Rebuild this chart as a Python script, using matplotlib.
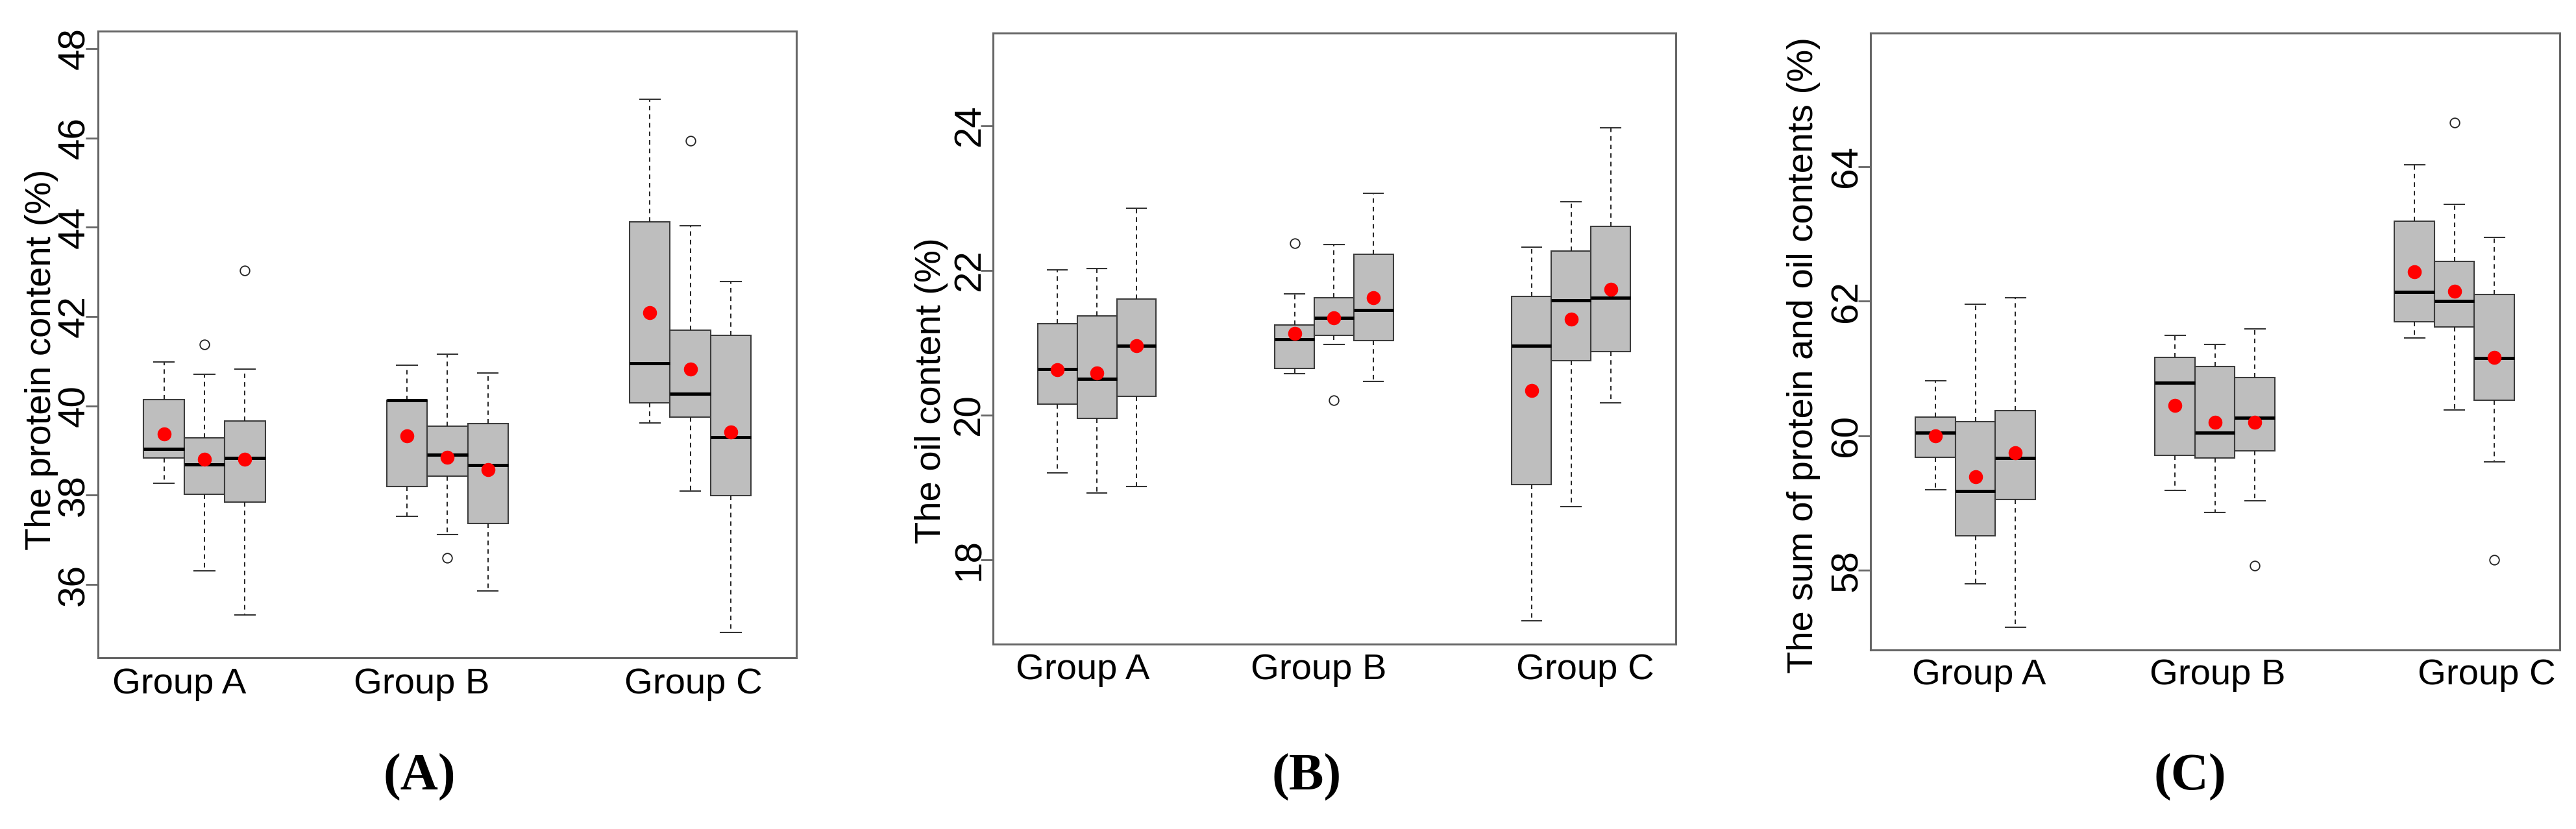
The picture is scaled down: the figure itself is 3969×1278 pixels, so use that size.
import matplotlib
matplotlib.use("Agg")
import matplotlib.pyplot as plt
from matplotlib import transforms

# ---------------- data ----------------
groups = ["Group A", "Group B", "Group C"]

# Panel A: protein content (%)
protein_whislo = [38.26, 36.30, 35.32, 37.52, 37.12, 35.86, 39.62, 38.09, 34.92]
protein_q1     = [38.83, 38.02, 37.85, 38.19, 38.42, 37.37, 40.07, 39.75, 37.99]
protein_med    = [39.04, 38.69, 38.83, 40.12, 38.91, 38.68, 40.96, 40.27, 39.30]
protein_q3     = [40.14, 39.28, 39.66, 40.12, 39.54, 39.61, 44.12, 41.70, 41.58]
protein_whishi = [40.98, 40.71, 40.83, 40.91, 41.15, 40.74, 46.87, 44.03, 42.79]
protein_mean   = [39.37, 38.80, 38.80, 39.32, 38.85, 38.57, 42.09, 40.83, 39.42]
protein_out    = [[], [41.38], [43.03], [], [36.60], [], [], [45.93], []]

# Panel B: oil content (%)
oil_whislo = [19.20, 18.92, 19.01, 20.57, 20.97, 20.46, 17.15, 18.73, 20.17]
oil_q1     = [20.15, 19.95, 20.26, 20.64, 21.10, 21.03, 19.04, 20.75, 20.88]
oil_med    = [20.63, 20.50, 20.96, 21.05, 21.34, 21.45, 20.96, 21.58, 21.62]
oil_q3     = [21.26, 21.37, 21.60, 21.24, 21.62, 22.22, 21.64, 22.27, 22.61]
oil_whishi = [22.01, 22.02, 22.86, 21.67, 22.36, 23.06, 22.32, 22.95, 23.97]
oil_mean   = [20.62, 20.58, 20.96, 21.13, 21.34, 21.62, 20.34, 21.32, 21.74]
oil_out    = [[], [], [], [22.37], [20.20], [], [], [], []]

# Panel C: sum of protein and oil contents (%)
sum_whislo = [59.20, 57.80, 57.16, 59.19, 58.86, 59.04, 61.45, 60.38, 59.61]
sum_q1     = [59.68, 58.52, 59.05, 59.71, 59.67, 59.78, 61.69, 61.62, 60.53]
sum_med    = [60.05, 59.18, 59.67, 60.79, 60.05, 60.27, 62.14, 62.00, 61.15]
sum_q3     = [60.28, 60.21, 60.37, 61.16, 61.03, 60.87, 63.19, 62.59, 62.10]
sum_whishi = [60.82, 61.95, 62.05, 61.49, 61.36, 61.59, 64.02, 63.44, 62.95]
sum_mean   = [60.00, 59.39, 59.75, 60.45, 60.20, 60.20, 62.44, 62.15, 61.16]
sum_out    = [[], [], [], [], [], [58.07], [], [64.65], [58.16]]

ylabels = ["The protein content (%)", "The oil content (%)",
           "The sum of protein and oil contents (%)"]
yticks = [[36, 38, 40, 42, 44, 46, 48], [18, 20, 22, 24], [58, 60, 62, 64]]
captions = ["(A)", "(B)", "(C)"]

# ---------------- layout ----------------
W, H = 3969, 1278
DPI = 100
box_pos = [1, 2, 3, 7, 8, 9, 13, 14, 15]

# frame pixel boxes (left, top, right, bottom)
frames = [(151, 48, 1227, 1014), (1530, 51, 2582, 993), (2882, 51, 3944, 1002)]
ylims = [(34.36, 48.39), (16.83, 25.28), (56.82, 65.98)]
xlims = [(-0.63, 16.62), (-0.63, 16.65), (-0.63, 16.64)]
label_x = [[1.38, 7.36, 14.08], [1.64, 7.61, 14.35], [2.09, 8.06, 14.80]]
label_pad = [11.0, 10.0, 9.4]
ylab_pos = [(78, 554), (1449, 602), (2793, 548)]   # baseline x, center y (px)
cap_pos = [(646, 1218), (2013, 1218), (3374, 1218)]

FRAME_C = "#666666"
EDGE_C = "#3c3c3c"

plt.rcParams["font.family"] = ["Liberation Sans", "DejaVu Sans"]

fig = plt.figure(figsize=(W / DPI, H / DPI), dpi=DPI)

panels = [
    (protein_whislo, protein_q1, protein_med, protein_q3, protein_whishi, protein_mean, protein_out),
    (oil_whislo, oil_q1, oil_med, oil_q3, oil_whishi, oil_mean, oil_out),
    (sum_whislo, sum_q1, sum_med, sum_q3, sum_whishi, sum_mean, sum_out),
]

for i, (wl, q1, md, q3, wh, mn, fl) in enumerate(panels):
    l, t, r, b = frames[i]
    ax = fig.add_axes([l / W, 1 - b / H, (r - l) / W, (b - t) / H])
    stats = []
    for k in range(len(md)):
        stats.append(dict(whislo=wl[k], q1=q1[k], med=md[k], q3=q3[k],
                          whishi=wh[k], mean=mn[k], fliers=fl[k]))
    ax.bxp(stats, positions=box_pos, widths=1.0, capwidths=0.5,
           patch_artist=True, showmeans=True, manage_ticks=False,
           boxprops=dict(facecolor="#BEBEBE", edgecolor=EDGE_C, linewidth=1.5),
           medianprops=dict(color="black", linewidth=3.6, solid_capstyle="butt"),
           whiskerprops=dict(color="#222222", linewidth=1.4, linestyle=(0, (3.6, 3.2))),
           capprops=dict(color="#333333", linewidth=1.5),
           flierprops=dict(marker="o", markerfacecolor="none", markeredgecolor="#222222",
                           markersize=10.5, markeredgewidth=1.3),
           meanprops=dict(marker="o", markerfacecolor="red", markeredgecolor="red",
                          markersize=14.5, zorder=5))
    ax.set_xlim(*xlims[i])
    ax.set_ylim(*ylims[i])
    for s in ax.spines.values():
        s.set_color(FRAME_C)
        s.set_linewidth(2.2)
    ax.set_yticks(yticks[i])
    ax.set_yticklabels([str(v) for v in yticks[i]])
    ax.tick_params(axis="y", direction="out", length=13.7, width=2.0, color=FRAME_C,
                   pad=1.6, labelsize=42)
    for lab in ax.get_yticklabels():
        lab.set_rotation(90)
        lab.set_rotation_mode("anchor")
        lab.set_ha("center")
        lab.set_va("baseline")
    ax.set_xticks(label_x[i])
    ax.set_xticklabels(groups)
    ax.tick_params(axis="x", length=0, pad=label_pad[i], labelsize=40.5)

    bx, cy = ylab_pos[i]
    fig.text(bx / W, 1 - cy / H, ylabels[i], rotation=90, rotation_mode="anchor",
             ha="center", va="baseline", fontsize=40.5)
    cx, cyb = cap_pos[i]
    fig.text(cx / W, 1 - cyb / H, captions[i], ha="center", va="baseline",
             fontsize=58, fontweight="bold", family=["Liberation Serif", "DejaVu Serif"])

fig.savefig("out.png", dpi=DPI, facecolor="white")
